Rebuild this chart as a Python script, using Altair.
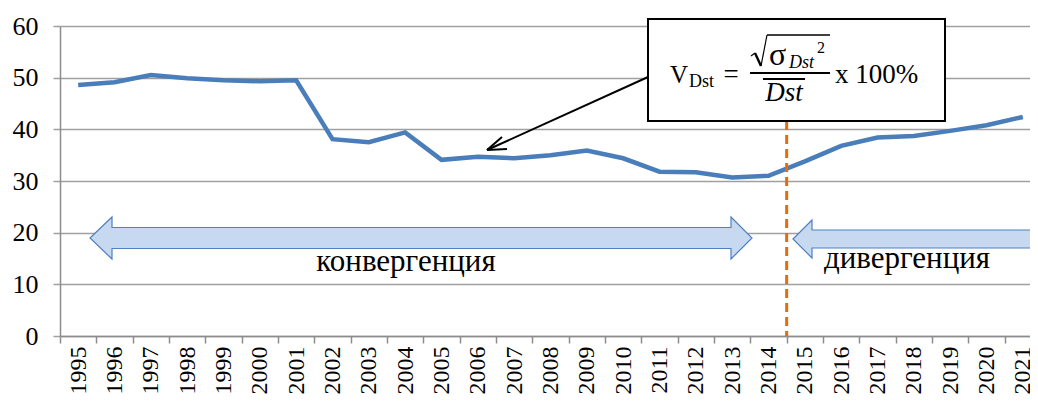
import altair as alt
import pandas as pd

# ---- data -------------------------------------------------------------
years = ["1995", "1996", "1997", "1998", "1999", "2000", "2001", "2002", "2003",
         "2004", "2005", "2006", "2007", "2008", "2009", "2010", "2011", "2012",
         "2013", "2014", "2015", "2016", "2017", "2018", "2019", "2020", "2021"]
values = [48.6, 49.1, 50.5, 49.9, 49.5, 49.3, 49.5, 38.1, 37.5, 39.4, 34.1, 34.7,
          34.4, 35.0, 35.9, 34.4, 31.8, 31.7, 30.7, 31.0, 33.8, 36.8, 38.4, 38.7,
          39.7, 40.8, 42.4]
y_ticks = [0, 10, 20, 30, 40, 50, 60]
split_year = ["2015"]
label_conv = "конвергенция"
label_div = "дивергенция"

df = pd.DataFrame({"year": years, "value": values})
one = pd.DataFrame({"k": [0]})

SERIF = "Liberation Serif, Times New Roman, serif"
W, H = 981, 310
OX, OY = 60, 26  # screen position of plot origin (used for annotation placement)

x_axis = alt.Axis(labelAngle=270, labelFont=SERIF, labelFontSize=24, labelColor="black",
                  tickBand="extent", tickSize=7, tickColor="#8C8C8C", tickWidth=1.5,
                  domainColor="#8C8C8C", domainWidth=1.5, labelPadding=3,
                  grid=False, title=None, labelOverlap=False)
y_axis = alt.Axis(values=y_ticks, labelFont=SERIF, labelFontSize=26, labelColor="black",
                  tickSize=7, tickColor="#A0A0A0", tickWidth=1.5, domainColor="#8C8C8C",
                  domainWidth=1.5, gridColor="#A0A0A0", gridWidth=1.5, labelPadding=15,
                  title=None)
x_scale = alt.Scale(type="band", domain=years, paddingInner=0, paddingOuter=0)
y_scale = alt.Scale(domain=[0, 60], nice=False)

line = alt.Chart(df).mark_line(color="#4A7EBB", strokeWidth=4.5).encode(
    x=alt.X("year:O", scale=x_scale, axis=x_axis, bandPosition=0.5),
    y=alt.Y("value:Q", scale=y_scale, axis=y_axis),
)

split = alt.Chart(pd.DataFrame({"year": split_year})).mark_rule(
    color="#E46C0A", strokeWidth=3, strokeDash=[9, 5]
).encode(
    x=alt.X("year:O", scale=x_scale, axis=x_axis, bandPosition=0),
    y=alt.datum(41.6, scale=y_scale),
    y2=alt.datum(0),
)


def sx(v):
    return v - OX


def sy(v):
    return v - OY


def txt(s, x, y, size, style="normal", align="left"):
    return alt.Chart(one).mark_text(
        text=s, font=SERIF, fontSize=size, fontStyle=style, align=align,
        baseline="alphabetic", color="black"
    ).encode(x=alt.value(sx(x)), y=alt.value(sy(y)))


def seg(x1, y1, x2, y2, w=2, color="black"):
    return alt.Chart(one).mark_rule(color=color, strokeWidth=w).encode(
        x=alt.value(sx(x1)), x2=alt.value(sx(x2)), y=alt.value(sy(y1)), y2=alt.value(sy(y2))
    )


arrow1_path = ("M -331 0 L -309 -21 L -309 -10.5 L 310 -10.5 L 310 -21 L 331 0 "
               "L 310 21 L 310 10.5 L -309 10.5 L -309 21 Z")
arrow2_path = ("M -129.5 0 L -110.5 -19 L -110.5 -9 L 108.5 -9 L 108.5 -19 L 129.5 0 "
               "L 108.5 19 L 108.5 9 L -110.5 9 L -110.5 19 Z")


def block_arrow(path, cx, cy):
    return alt.Chart(one).mark_point(
        shape=path, size=4, filled=True, fill="#C6D9F1", stroke="#4F81BD",
        strokeWidth=1.2, opacity=1
    ).encode(x=alt.value(sx(cx)), y=alt.value(sy(cy)))


arrows = [block_arrow(arrow1_path, 421, 238), block_arrow(arrow2_path, 922.5, 239)]
texts = [txt(label_conv, 406, 271, 31, align="center"),
         txt(label_div, 907, 268, 31, align="center")]

box = alt.Chart(one).mark_rect(fill="white", stroke="black", strokeWidth=2).encode(
    x=alt.value(sx(648)), x2=alt.value(sx(945)), y=alt.value(sy(19)), y2=alt.value(sy(121))
)

formula = [
    txt("V", 670, 83, 25),
    txt("Dst", 689, 87, 18),
    txt("=", 731, 83, 27, align="center"),
    seg(751, 56, 755, 53, 1.2),
    seg(755, 53, 761, 66, 2.4),
    seg(761, 66, 767, 35, 1.2),
    seg(767, 35, 830, 35, 1.5),
    txt("σ", 769, 65, 32),
    txt("Dst", 789, 68, 18, style="italic"),
    txt("2", 817, 53, 16),
    seg(750, 73, 830, 73, 2),
    seg(763, 79, 805, 79, 2),
    txt("Dst", 784, 101, 27, style="italic", align="center"),
    txt("x 100%", 835, 83, 27),
]

callout = [seg(648, 77, 487, 150, 2), seg(487, 150, 502, 137, 2), seg(487, 150, 507, 149, 2)]

# The page must not overflow the 1038x403 window (8px body margin on each side):
# the svg is 1022x387 and the far-right part of the plot is clipped like the reference.
chart = alt.layer(line, split, *arrows, *texts, box, *formula, *callout).properties(
    width=W, height=H,
    autosize="none",
    padding={"left": 52, "top": 18, "right": -11, "bottom": 59},
    background="white",
).configure_view(stroke=None)

chart.save("out.html", embed_options={"renderer": "svg", "actions": False})
